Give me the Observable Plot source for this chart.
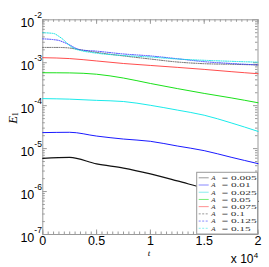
<!DOCTYPE html>
<html><head><meta charset="utf-8">
<script src="https://cdn.jsdelivr.net/npm/d3@7"></script>
<script src="https://cdn.jsdelivr.net/npm/@observablehq/plot@0.6"></script>
<style>body{margin:0;background:#fff}</style>
</head><body><div id="chart"></div>
<script>
// ---- data ----
const times = [0, 2500, 5000, 7500, 10000, 12500, 15000, 17500, 20000];
const e005 = [5.94e-6, 6.25e-6, 4.4e-6, 3.52e-6, 2.57e-6, 1.77e-6, 1.2e-6, 8.5e-7, 5.94e-7];
const e01  = [2.36e-5, 2.4e-5, 1.96e-5, 1.67e-5, 1.48e-5, 1.15e-5, 8.97e-6, 6.3e-6, 4.47e-6];
const e025 = [1.46e-4, 1.42e-4, 1.33e-4, 1.25e-4, 1.02e-4, 7.9e-5, 6.0e-5, 3.98e-5, 2.52e-5];
const e05  = [5.85e-4, 5.8e-4, 5.4e-4, 4.4e-4, 3.29e-4, 2.5e-4, 1.93e-4, 1.52e-4, 1.17e-4];
const e075 = [1.31e-3, 1.25e-3, 1.1e-3, 9.6e-4, 8.65e-4, 7.8e-4, 7.0e-4, 6.2e-4, 5.55e-4];
const timesFine = [0, 1000, 1500, 2000, 2500, 3000, 3500, 5000, 7500, 10000, 12500, 15000, 17500, 20000];
const e10  = [2.27e-3, 2.27e-3, 2.27e-3, 2.25e-3, 2.2e-3, 2.1e-3, 2.0e-3, 1.74e-3, 1.44e-3, 1.22e-3, 1.04e-3, 9.5e-4, 9.2e-4, 8.9e-4];
const e125 = [3.6e-3, 3.45e-3, 3.3e-3, 2.96e-3, 2.6e-3, 2.21e-3, 2.0e-3, 1.86e-3, 1.6e-3, 1.44e-3, 1.24e-3, 1.06e-3, 9.6e-4, 8.9e-4];
const e15  = [5.0e-3, 4.8e-3, 4.1e-3, 3.3e-3, 2.5e-3, 2.1e-3, 1.93e-3, 1.67e-3, 1.47e-3, 1.36e-3, 1.22e-3, 1.14e-3, 1.08e-3, 1.03e-3];
const amplitudes = ["0.005", "0.01", "0.025", "0.05", "0.075", "0.1", "0.125", "0.15"];
const yTickValues = [1e-2, 1e-3, 1e-4, 1e-5, 1e-6, 1e-7];
const xTickValues = [0, 5000, 10000, 15000, 20000];
const xTickLabels = ["0", "0.5", "1", "1.5", "2"];

// ---- styles ----
const seriesDefs = [
  {A: "0.005", t: times, e: e005, stroke: "#111", dash: null, w: 1.2},
  {A: "0.01", t: times, e: e01, stroke: "#0000ff", dash: null, w: 0.9},
  {A: "0.025", t: times, e: e025, stroke: "#00e8e8", dash: null, w: 0.9},
  {A: "0.05", t: times, e: e05, stroke: "#00dd00", dash: null, w: 0.9},
  {A: "0.075", t: times, e: e075, stroke: "#ff2020", dash: null, w: 0.8},
  {A: "0.1", t: timesFine, e: e10, stroke: "#555", dash: "1,1.3", w: 0.9},
  {A: "0.125", t: timesFine, e: e125, stroke: "#3333ff", dash: "1,1.3", w: 0.9},
  {A: "0.15", t: timesFine, e: e15, stroke: "#00e0e0", dash: "1,1.3", w: 0.9}
];
const legendStroke = ["#999", "#8888ff", "#88eeee", "#77ee77", "#ff9090", "#999", "#8888ff", "#88eeee"];

const W = 269, H = 267, mL = 42.3, mR = 11.5, mT = 19.3, mB = 33;
const fw = W - mL - mR, fh = H - mT - mB;

const yMinor = [];
for (let p = -7; p < -2; p++) for (let k = 2; k <= 9; k++) yMinor.push(k * Math.pow(10, p));
const xMinor = d3.range(0, 20001, 500);

const axisColor = "#9a9a9a";
const sans = "Liberation Sans, Arial, Helvetica, sans-serif";
const serif = "Liberation Serif, Times New Roman, serif";

const marks = [
  Plot.frame({stroke: axisColor, strokeWidth: 1}),
  Plot.tickY(yTickValues, {y: d => d, insetRight: fw - 4.5, stroke: axisColor}),
  Plot.tickY(yTickValues, {y: d => d, insetLeft: fw - 4.5, stroke: axisColor}),
  Plot.tickY(yMinor, {y: d => d, insetRight: fw - 2.5, stroke: axisColor}),
  Plot.tickY(yMinor, {y: d => d, insetLeft: fw - 2.5, stroke: axisColor}),
  Plot.tickX(xTickValues, {x: d => d, insetTop: fh - 4.5, stroke: axisColor}),
  Plot.tickX(xTickValues, {x: d => d, insetBottom: fh - 4.5, stroke: axisColor}),
  Plot.tickX(xMinor, {x: d => d, insetTop: fh - 2.5, stroke: axisColor}),
  Plot.tickX(xMinor, {x: d => d, insetBottom: fh - 2.5, stroke: axisColor})
];
for (const s of seriesDefs) {
  const rows = s.t.map((t, i) => ({t, e: s.e[i]}));
  marks.push(Plot.line(rows, {x: "t", y: "e", stroke: s.stroke, strokeWidth: s.w,
    strokeDasharray: s.dash, curve: "monotone-x"}));
}
marks.push(
  Plot.text(yTickValues, {y: d => d, frameAnchor: "left", text: () => "10", textAnchor: "end",
    dx: -8.5, dy: 3, fontSize: 12.5, fill: "#000", fontFamily: sans}),
  Plot.text(yTickValues, {y: d => d, frameAnchor: "left", text: d => "-" + Math.round(-Math.log10(d)),
    textAnchor: "start", dx: -8.5, dy: -4.5, fontSize: 8.5, fill: "#000", fontFamily: sans}),
  Plot.text(xTickValues, {x: d => d, frameAnchor: "bottom", text: (d, i) => xTickLabels[i],
    dy: 10.5, fontSize: 12.5, fill: "#000", fontFamily: sans}),
  Plot.text(["t"], {frameAnchor: "bottom", text: d => d, dy: 21, dx: -1.5, fontSize: 9,
    fontStyle: "italic", fontFamily: serif, fill: "#000"}),
  Plot.text(["x 10"], {frameAnchor: "bottom-right", text: d => d, textAnchor: "end",
    dx: -4.5, dy: 28, fontSize: 12, fontFamily: sans, fill: "#000"}),
  Plot.text(["4"], {frameAnchor: "bottom-right", text: d => d, textAnchor: "start",
    dx: -4.3, dy: 23.5, fontSize: 8, fontFamily: sans, fill: "#000"}),
  Plot.text(["E"], {frameAnchor: "left", text: d => d, rotate: -90, dx: -30, dy: -3.5,
    fontSize: 12.5, fontStyle: "italic", fontFamily: serif, fill: "#000"}),
  Plot.text(["1"], {frameAnchor: "left", text: d => d, rotate: -90, dx: -27, dy: -11,
    fontSize: 8, fontFamily: serif, fill: "#000"})
);

const svg = Plot.plot({
  width: W, height: H,
  marginLeft: mL, marginRight: mR, marginTop: mT, marginBottom: mB,
  x: {domain: [0, 20000], axis: null},
  y: {type: "log", domain: [1e-7, 1e-2], axis: null},
  style: {background: "#fff", overflow: "visible"},
  marks
});

// ---- legend (inside lower-right corner) ----
const g = d3.select(svg).append("g").attr("text-anchor", "start");
const lgX0 = 196.7, lgX1 = W - mR, lgY0 = 172.3, lgY1 = H - mB;
g.append("rect").attr("x", lgX0).attr("y", lgY0).attr("width", lgX1 - lgX0).attr("height", lgY1 - lgY0)
  .attr("fill", "#fff").attr("stroke", axisColor).attr("stroke-width", 1);
const rowH = (lgY1 - lgY0 - 4) / amplitudes.length;
amplitudes.forEach((a, i) => {
  const cy = lgY0 + 5.5 + i * rowH;
  const s = seriesDefs[i];
  g.append("line").attr("x1", lgX0 + 2).attr("x2", lgX0 + 12).attr("y1", cy).attr("y2", cy)
    .attr("stroke", legendStroke[i]).attr("stroke-width", 1)
    .attr("stroke-dasharray", s.dash ? "2,1.5" : null);
  g.append("text").attr("x", lgX0 + 14.5).attr("y", cy + 2.3).attr("text-anchor", "start")
    .attr("font-family", serif).attr("font-style", "italic").attr("font-size", 7)
    .attr("fill", "#333").text("A");
  const nDigits = a.replace(".", "").length;
  const len = 8.3 + nDigits * 5.9 + 3;
  g.append("text").attr("x", lgX0 + 25).attr("y", cy + 2.3).attr("text-anchor", "start")
    .attr("font-family", serif).attr("font-size", 6.8).attr("fill", "#333")
    .attr("textLength", len).attr("lengthAdjust", "spacingAndGlyphs")
    .text("= " + a);
});

document.getElementById("chart").appendChild(svg);
</script>
</body></html>
